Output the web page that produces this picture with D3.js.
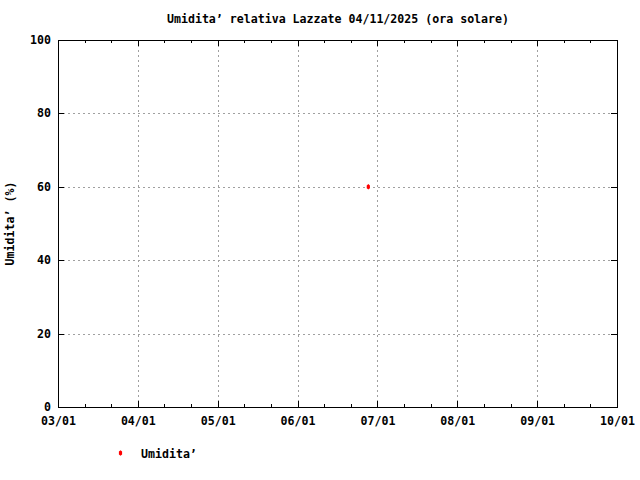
<!DOCTYPE html>
<html>
<head>
  <title>Umidita' relativa Lazzate</title>
  <style>
    body { margin: 0; background: #fff; }
    text {
      font-family: "DejaVu Sans Mono", "Liberation Mono", monospace;
      font-weight: bold;
      font-size: 11.6px;
      fill: #000;
    }
    .grid line {
      stroke: #a0a0a0;
      stroke-dasharray: 2,3;
      shape-rendering: crispEdges;
    }
    .tick-mark {
      stroke: #000;
      shape-rendering: crispEdges;
    }
  </style>
</head>
<body>
  <svg id="chart"></svg>

  <script src="https://d3js.org/d3.v7.min.js"></script>
  <script>
    // Data
    const xTickValues = [3, 4, 5, 6, 7, 8, 9, 10];
    const xTickLabels = ["03/01", "04/01", "05/01", "06/01", "07/01", "08/01", "09/01", "10/01"];
    const yTickValues = [0, 20, 40, 60, 80, 100];
    const times = [6.886];
    const humidity = [60];

    const width = 640;
    const height = 480;
    const margin = { top: 40, right: 23, bottom: 73, left: 58 };

    const svg = d3.select("#chart")
      .attr("width", width)
      .attr("height", height);

    const x = d3.scaleLinear()
      .domain([3, 10])
      .range([margin.left, width - margin.right]);

    const y = d3.scaleLinear()
      .domain([0, 100])
      .range([height - margin.bottom, margin.top]);

    const x0 = x.range()[0], x1 = x.range()[1];
    const y0 = y.range()[0], y1 = y.range()[1];

    // Grid lines (skip the ones on the border)
    const grid = svg.append("g").attr("class", "grid");
    grid.selectAll(".vx")
      .data(xTickValues.slice(1, -1))
      .enter().append("line")
      .attr("x1", d => Math.round(x(d)) + 0.5)
      .attr("x2", d => Math.round(x(d)) + 0.5)
      .attr("y1", y1)
      .attr("y2", y0);
    grid.selectAll(".hy")
      .data(yTickValues.slice(1, -1))
      .enter().append("line")
      .attr("x1", x0)
      .attr("x2", x1)
      .attr("y1", d => Math.round(y(d)) + 0.5)
      .attr("y2", d => Math.round(y(d)) + 0.5);

    // Minor ticks on x (thirds between majors)
    const xMinor = [];
    for (let i = 0; i < xTickValues.length - 1; i++) {
      xMinor.push(xTickValues[i] + 1 / 3, xTickValues[i] + 2 / 3);
    }

    const ticks = svg.append("g");
    function tick(xa, ya, xb, yb) {
      ticks.append("line").attr("class", "tick-mark")
        .attr("x1", xa).attr("y1", ya).attr("x2", xb).attr("y2", yb);
    }
    xTickValues.forEach(v => {
      const px = Math.round(x(v)) + 0.5;
      tick(px, y0, px, y0 - 6);
      tick(px, y1, px, y1 + 6);
    });
    xMinor.forEach(v => {
      const px = Math.round(x(v)) + 0.5;
      tick(px, y0, px, y0 - 3);
      tick(px, y1, px, y1 + 3);
    });
    yTickValues.forEach(v => {
      const py = Math.round(y(v)) + 0.5;
      tick(x0, py, x0 + 6, py);
      tick(x1, py, x1 - 6, py);
    });

    // Border
    svg.append("rect")
      .attr("x", x0 + 0.5)
      .attr("y", y1 + 0.5)
      .attr("width", x1 - x0)
      .attr("height", y0 - y1)
      .attr("fill", "none")
      .attr("stroke", "#000")
      .attr("shape-rendering", "crispEdges");

    // Tick labels
    svg.append("g").selectAll("text")
      .data(xTickValues)
      .enter().append("text")
      .attr("x", d => x(d) + 0.5)
      .attr("y", y0 + 18)
      .attr("text-anchor", "middle")
      .text((d, i) => xTickLabels[i]);

    svg.append("g").selectAll("text")
      .data(yTickValues)
      .enter().append("text")
      .attr("x", x0 - 7)
      .attr("y", d => y(d) + 4)
      .attr("text-anchor", "end")
      .text(d => d);

    // Title and axis label
    svg.append("text")
      .attr("x", 338)
      .attr("y", 23)
      .attr("text-anchor", "middle")
      .text("Umidita’ relativa Lazzate 04/11/2025 (ora solare)");

    svg.append("text")
      .attr("transform", `translate(14, ${(y0 + y1) / 2}) rotate(-90)`)
      .attr("text-anchor", "middle")
      .text("Umidita’ (%)");

    // Data points
    function marker(sel) {
      return sel.attr("d", "M0,-2.8L1.6,-1.4L1.6,1.4L0,2.8L-1.6,1.4L-1.6,-1.4Z")
        .attr("fill", "#ff0000");
    }
    marker(svg.append("g").selectAll("path")
      .data(times)
      .enter().append("path")
      .attr("transform", (d, i) => `translate(${x(d)}, ${y(humidity[i])})`));

    // Legend
    marker(svg.append("path").attr("transform", "translate(120.5, 453)"));
    svg.append("text")
      .attr("x", 141)
      .attr("y", 458)
      .text("Umidita’");
  </script>
</body>
</html>
